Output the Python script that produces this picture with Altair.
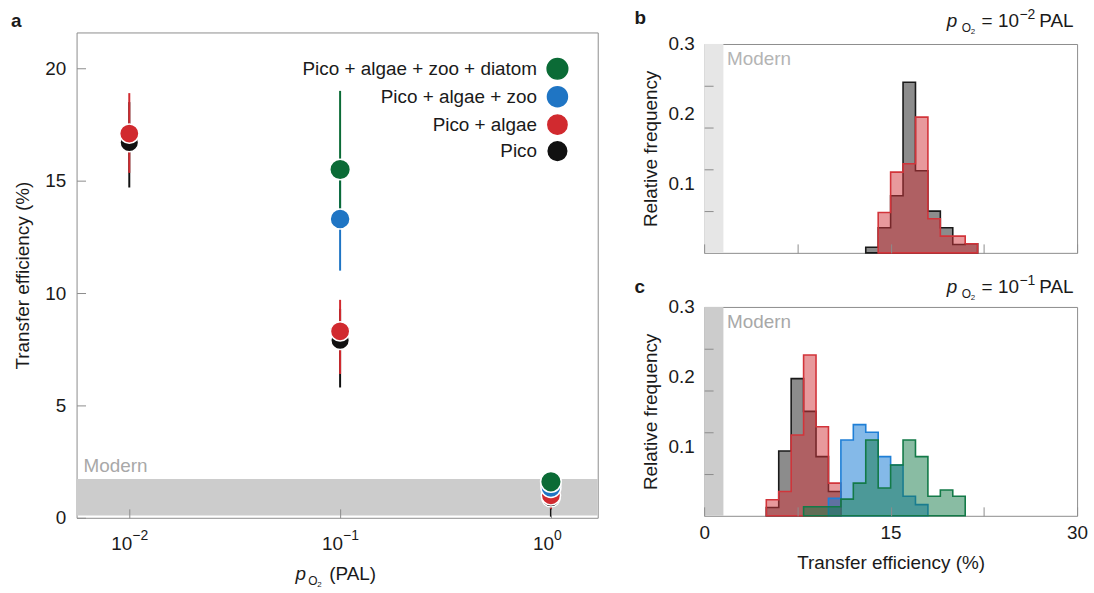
import altair as alt
import pandas as pd

FONT = "Liberation Sans"

# ---------------- Panel a data ----------------
series = ["Pico + algae + zoo + diatom", "Pico + algae + zoo", "Pico + algae", "Pico"]
series_colors = ["#0b6b36", "#1f75c4", "#d12a2f", "#111111"]
series_sizes = [430, 350, 185, 45]

pico_x = [0.01, 0.1, 1.0]
pico_y = [16.7, 7.9, 0.9]
pico_lo = [14.7, 5.8, 0.05]
pico_hi = [18.5, 9.3, 1.3]

algae_x = [0.01, 0.1, 1.0]
algae_y = [17.1, 8.3, 1.0]
algae_lo = [15.35, 6.4, 0.4]
algae_hi = [18.9, 9.7, 1.6]

zoo_x = [0.1, 1.0]
zoo_y = [13.3, 1.35]
zoo_lo = [11.0, 0.9]
zoo_hi = [15.5, 1.8]

diatom_x = [0.1, 1.0]
diatom_y = [15.5, 1.6]
diatom_lo = [13.0, 1.2]
diatom_hi = [19.0, 2.0]

modern_a = [0.1, 1.73]          # modern transfer-efficiency band (%)
modern_bc = [0.0, 1.55]

xa_ticks = [0.01, 0.1, 1.0]
xa_bases = ["10", "10", "10"]
xa_exps = ["−2", "−1", "0"]

# ---------------- Histogram data (bin width 1 %) ----------------
b_pico_start = 13
b_pico = [0.008, 0.036, 0.082, 0.245, 0.118, 0.060, 0.036, 0.012, 0.013]
b_algae_start = 14
b_algae = [0.058, 0.116, 0.128, 0.195, 0.049, 0.024, 0.024, 0.013]

c_pico_start = 5
c_pico = [0.012, 0.093, 0.197, 0.150, 0.085, 0.035]
c_algae_start = 5
c_algae = [0.023, 0.035, 0.116, 0.231, 0.128, 0.047]
c_zoo_start = 10
c_zoo = [0.025, 0.109, 0.131, 0.120, 0.085, 0.073, 0.028, 0.016]
c_diatom_start = 8
c_diatom = [0.013, 0.013, 0.013, 0.024, 0.047, 0.109, 0.040, 0.073, 0.109, 0.085, 0.028, 0.037, 0.028]

# ---------------- helpers ----------------
TICK_IN = {"expr": "-9"}
GRAY = "#8c8c8c"
INK = "#1a1a1a"


def rows(name, xs, ys, los, his):
    return [dict(series=name, p=x, te=y, lo=l, hi=h) for x, y, l, h in zip(xs, ys, los, his)]


df_a = pd.DataFrame(
    rows("Pico", pico_x, pico_y, pico_lo, pico_hi)
    + rows("Pico + algae", algae_x, algae_y, algae_lo, algae_hi)
    + rows("Pico + algae + zoo", zoo_x, zoo_y, zoo_lo, zoo_hi)
    + rows("Pico + algae + zoo + diatom", diatom_x, diatom_y, diatom_lo, diatom_hi)
)
df_a["z"] = df_a["series"].map({s: i for i, s in enumerate(reversed(series))})


def text_layer(txt, x, y, size=19, color=INK, style="normal", weight="normal", align="left", baseline="alphabetic"):
    return alt.Chart(pd.DataFrame({"t": [txt]})).mark_text(
        font=FONT, fontSize=size, color=color, fontStyle=style, fontWeight=weight,
        align=align, baseline=baseline,
    ).encode(text="t:N", x=alt.value(x), y=alt.value(y))


def po2_label(x, y, o_dx=15, two_dx=24):
    """italic p with subscript O2"""
    return [
        text_layer("p", x, y, style="italic"),
        text_layer("O", x + o_dx, y + 5, size=12),
        text_layer("2", x + two_dx, y + 7, size=8),
    ]


def header(x, y, exp):
    return po2_label(x, y) + [
        text_layer("= 10", x + 35, y),
        text_layer(exp, x + 73, y - 8.5, size=14),
        text_layer("PAL", x + 93, y),
    ]


# ---------------- Panel a ----------------
W_A, H_A = 524, 488
xa_scale = alt.Scale(type="log", domain=[10 ** -2.25, 10 ** 0.222], nice=False)
ya_scale = alt.Scale(domain=[0, 21.6], nice=False)
ax_xa = alt.Axis(values=xa_ticks, title=None, domain=False, grid=False, zindex=1,
                 tickSize=TICK_IN, tickColor=GRAY, labels=False)
ax_ya = alt.Axis(values=[0, 5, 10, 15, 20], title="Transfer efficiency (%)", domain=False, grid=False,
                 zindex=1, tickSize=TICK_IN, tickColor=GRAY, labelPadding=20, titlePadding=12,
                 labelFont=FONT, labelFontSize=19, labelColor=INK,
                 titleFont=FONT, titleFontSize=19, titleFontWeight="normal", titleColor=INK)


def XA(f):
    return alt.X(f, type="quantitative", scale=xa_scale, axis=ax_xa)


def YA(f):
    return alt.Y(f, type="quantitative", scale=ya_scale, axis=ax_ya)


band_a = alt.Chart(pd.DataFrame({"b0": [modern_a[0]], "b1": [modern_a[1]]})).mark_rect(
    color="#cccccc").encode(y=YA("b0"), y2="b1")

leg = alt.Legend(title=None, orient="none", legendX=472, legendY=25, labelAlign="right",
                 labelOffset={"expr": "-32"}, labelFont=FONT, labelFontSize=19, labelColor=INK,
                 symbolType="circle", symbolStrokeColor="white", symbolStrokeWidth=1.5,
                 symbolOpacity=1, rowPadding=0.6, padding=0, labelLimit=400)

color_enc = alt.Color("series:N", scale=alt.Scale(domain=series, range=series_colors), legend=leg)
size_enc = alt.Size("series:N", scale=alt.Scale(domain=series, range=series_sizes), legend=leg)

rules_a = alt.Chart(df_a).mark_rule(strokeWidth=2).encode(
    x=XA("p"), y=YA("lo"), y2="hi", color=color_enc, order=alt.Order("z:Q"),
)

points_a = alt.Chart(df_a).mark_point(filled=True, opacity=1, stroke="white", strokeWidth=1.5).encode(
    x=XA("p"), y=YA("te"), color=color_enc, size=size_enc, order=alt.Order("z:Q"),
)

df_ticks = pd.DataFrame({"p": xa_ticks, "base": xa_bases, "exp": xa_exps})
tick_base = alt.Chart(df_ticks).mark_text(font=FONT, fontSize=19, color=INK, align="right", dx=3).encode(
    x=XA("p"), y=alt.value(H_A + 26), text="base:N")
tick_exp = alt.Chart(df_ticks).mark_text(font=FONT, fontSize=14, color=INK, align="left", dx=3).encode(
    x=XA("p"), y=alt.value(H_A + 18), text="exp:N")

panel_a = alt.layer(
    band_a,
    text_layer("Modern", 7, 436, color="#a8a8a8", baseline="middle"),
    rules_a,
    points_a,
    tick_base,
    tick_exp,
    *po2_label(220, 551, o_dx=13, two_dx=22),
    text_layer("(PAL)", 254, 551),
    text_layer("a", -66, -5, weight="bold"),
).properties(width=W_A, height=H_A)

# ---------------- Panels b and c ----------------
W_H, H_H = 375, 210
xh_scale = alt.Scale(domain=[0, 30], nice=False)
yh_scale = alt.Scale(domain=[0, 0.3], nice=False)


def ax_xh(show_labels, title):
    kw = dict(values=[0, 7.5, 15, 22.5, 30], domain=False, grid=False, zindex=1, tickSize=TICK_IN,
              tickColor=GRAY, labelPadding=17, labelFont=FONT, labelFontSize=19, labelFlush=False,
              labelColor=INK, labels=show_labels,
              labelExpr="datum.value % 15 == 0 ? datum.label : ''",
              titleFont=FONT, titleFontSize=19, titleFontWeight="normal", titleColor=INK,
              titlePadding=11)
    kw["title"] = title if title else None
    return alt.Axis(**kw)


ax_yh = alt.Axis(values=[0.06, 0.1, 0.12, 0.18, 0.2, 0.24, 0.3], format=".1f", domain=False, grid=False,
                 zindex=1, tickSize=TICK_IN, tickColor=GRAY,
                 tickOpacity={"condition": {"test": "datum.value == 0.1 || datum.value == 0.2 || datum.value == 0.3", "value": 0}, "value": 1},
                 labelExpr="(datum.value == 0.1 || datum.value == 0.2 || datum.value == 0.3) ? datum.label : ''",
                 labelPadding=19, labelFont=FONT, labelFontSize=19, labelColor=INK,
                 labelOverlap=False,
                 title="Relative frequency", titleFont=FONT, titleFontSize=19, titleFontWeight="normal",
                 titleColor=INK, titlePadding=7)


def hist_df(start, vals):
    edges = list(range(start, start + len(vals) + 1))
    return pd.DataFrame({"te": edges, "f": list(vals) + [0.0]})


def hist_panel(hists, band_color, modern_color, letter, header_exp, show_x_labels, x_title, ybase, letter_y):
    ax_x = ax_xh(show_x_labels, x_title)

    def XH(f):
        return alt.X(f, type="quantitative", scale=xh_scale, axis=ax_x)

    def YH(f):
        return alt.Y(f, type="quantitative", scale=yh_scale, axis=ax_yh, stack=None)

    band = alt.Chart(pd.DataFrame({"b0": [modern_bc[0]], "b1": [modern_bc[1]]})).mark_rect(
        color=band_color).encode(x=XH("b0"), x2="b1")
    layers = [band, text_layer("Modern", 23, 15, color=modern_color, baseline="middle")]
    for start, vals, stroke, fillop in hists:
        layers.append(
            alt.Chart(hist_df(start, vals)).mark_area(
                interpolate="step-after", fill=stroke, fillOpacity=fillop,
                stroke=stroke, strokeWidth=1.6, strokeJoin="miter"
            ).encode(x=XH("te"), y=YH("f"))
        )
    layers += [text_layer(letter, -70, letter_y, weight="bold")] + header(244, ybase, header_exp)
    return alt.layer(*layers).properties(width=W_H, height=H_H)


BLACK, RED, BLUE, GREEN = "#1a1a1a", "#d2343a", "#1f7fd6", "#137a48"

panel_b = hist_panel(
    [(b_pico_start, b_pico, BLACK, 0.5), (b_algae_start, b_algae, RED, 0.5)],
    "#e6e6e6", "#b4b4b4", "b", "−2", False, None, -17, -20,
)
panel_c = hist_panel(
    [(c_pico_start, c_pico, BLACK, 0.5), (c_algae_start, c_algae, RED, 0.5),
     (c_zoo_start, c_zoo, BLUE, 0.55), (c_diatom_start, c_diatom, GREEN, 0.5)],
    "#cccccc", "#a8a8a8", "c", "−1", True, "Transfer efficiency (%)", -14, -14,
)

spacer = alt.Chart(pd.DataFrame({"v": [0]})).mark_point(opacity=0).encode(
    x=alt.X("v:Q", axis=None), y=alt.Y("v:Q", axis=None)
).properties(width=W_H, height=1, view=alt.ViewBackground(strokeOpacity=0))

right = alt.vconcat(spacer, alt.vconcat(panel_b, panel_c, spacing=54.4, bounds="flush"),
                    spacing=10.6, bounds="flush")

chart = alt.hconcat(panel_a, right, spacing=107, bounds="flush").properties(
    padding={"left": 10, "top": 5, "right": 5, "bottom": 5}
).configure_view(stroke=GRAY, strokeWidth=1)

chart.save("out.html", embed_options={"renderer": "svg", "actions": False})
